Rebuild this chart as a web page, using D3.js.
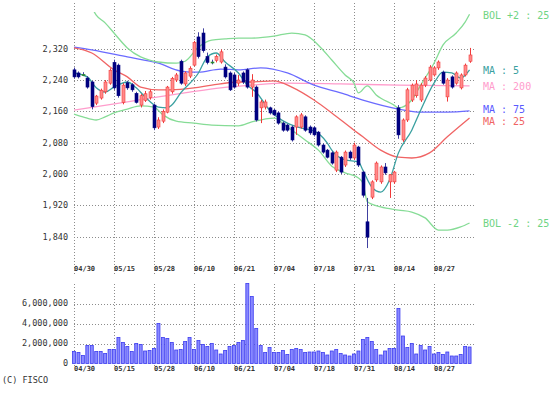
<!DOCTYPE html>
<html>
<head>
<meta charset="utf-8">
<script src="https://cdn.jsdelivr.net/npm/d3@7"></script>
<style>
body { margin: 0; background: #fff; }
text { font-family: "DejaVu Sans Mono", monospace; }
</style>
</head>
<body>
<div id="chart"></div>
<script>
// daily candles, one per trading day (index 0 = 04/30)
const opens  = [2266,2258,2254,2245,2235,2181,2194,2210,2232,2285,2278,2183,2233,2228,2206,2176,2188,2195,2176,2120,
                2135,2158,2210,2240,2288,2230,2250,2278,2350,2360,2300,2286,2290,2286,2273,2258,2253,2232,2258,2266,
                2222,2222,2169,2171,2169,2163,2156,2130,2125,2120,2120,2120,2146,2120,2118,2107,2074,2061,2054,2010,
                2043,2023,2056,2041,2069,2005,1878,1941,1985,1980,2018,1980,1980,2169,2087,2138,2189,2200,2189,2227,
                2240,2253,2271,2260,2197,2248,2232,2220,2253,2288];
const highs  = [2272,2262,2260,2250,2238,2202,2218,2240,2270,2292,2282,2232,2238,2232,2210,2204,2212,2215,2180,2145,
                2165,2225,2248,2258,2292,2262,2275,2340,2362,2372,2310,2292,2305,2318,2280,2262,2258,2253,2262,2270,
                2255,2226,2189,2190,2172,2166,2160,2134,2128,2124,2150,2156,2150,2124,2122,2110,2078,2064,2058,2060,
                2046,2060,2060,2080,2072,2008,1939,1984,2032,2022,2028,2000,2008,2176,2142,2220,2231,2240,2232,2250,
                2278,2275,2290,2264,2245,2252,2262,2257,2282,2322];
const lows   = [2244,2244,2250,2218,2165,2176,2190,2205,2228,2215,2195,2178,2215,2210,2180,2170,2184,2190,2112,2115,
                2130,2155,2205,2235,2228,2225,2245,2275,2295,2310,2280,2280,2285,2282,2244,2212,2218,2225,2230,2218,
                2197,2134,2130,2165,2152,2148,2126,2108,2108,2083,2100,2116,2108,2100,2096,2070,2052,2040,2024,2005,
                2000,2018,2036,2036,2018,1940,1811,1936,1980,1975,1998,1939,1975,2090,2082,2133,2184,2195,2184,2222,
                2236,2249,2266,2228,2185,2218,2228,2216,2249,2284];
const closes = [2248,2248,2254,2222,2172,2199,2214,2235,2265,2220,2200,2227,2220,2215,2183,2200,2205,2210,2118,2138,
                2160,2222,2244,2253,2232,2258,2270,2336,2300,2315,2285,2286,2300,2312,2248,2215,2222,2240,2235,2222,
                2240,2138,2184,2184,2156,2151,2130,2112,2112,2087,2146,2151,2112,2105,2100,2074,2056,2043,2028,2056,
                2005,2056,2041,2074,2023,1946,1839,1980,2028,2018,2003,1998,2005,2100,2138,2215,2227,2230,2227,2245,
                2273,2271,2286,2232,2240,2222,2258,2253,2278,2304];
const volumes = [1.2,1.1,0.8,1.8,1.8,1.2,1.2,1.0,1.4,1.4,2.6,2.1,1.7,1.2,2.0,1.9,1.25,1.3,1.5,4.0,
                 2.6,2.5,2.1,1.35,1.4,2.2,2.6,1.4,2.3,1.9,1.7,2.0,1.35,0.95,1.3,1.7,1.8,2.1,2.3,8.0,
                 6.7,3.5,1.8,1.1,1.6,1.1,1.1,1.3,0.9,1.4,1.5,1.4,1.1,1.15,1.15,1.25,1.1,0.85,1.25,1.4,
                 1.0,0.85,0.75,0.95,1.25,2.4,2.6,2.2,1.4,0.85,1.25,1.5,1.5,5.5,2.75,1.6,2.0,0.95,1.8,1.35,
                 1.7,0.95,1.1,0.9,1.15,0.75,0.75,0.9,1.7,1.65].map(v => v * 1e6);

// indicator lines: [day index, value]
const ma5 = [[0,2258],[3,2248],[5,2220],[7,2209],[9,2222],[12,2235],[14,2220],[16,2197],[19,2171],[21,2169],[22,2176],
             [24,2207],[28,2258],[30,2299],[32,2309],[34,2286],[37,2258],[39,2227],[41,2209],[44,2163],[48,2130],
             [51,2118],[54,2110],[57,2079],[58,2061],[61,2036],[64,2031],[65,2010],[67,1967],[69,1954],[71,1985],
             [73,2054],[76,2112],[78,2163],[81,2232],[83,2260],[85,2258],[87,2245],[89,2266]];
const ma25 = [[0,2322],[4,2309],[9,2266],[12,2248],[15,2222],[19,2215],[22,2215],[27,2220],[31,2227],[37,2235],
              [40,2235],[45,2238],[49,2222],[54,2189],[58,2156],[63,2112],[65,2095],[69,2061],[73,2043],[76,2041],
              [80,2054],[84,2095],[89,2143]];
const ma75 = [[0,2324],[4,2317],[12,2299],[19,2283],[24,2263],[28,2260],[33,2268],[37,2266],[42,2271],[48,2258],
              [54,2227],[60,2207],[65,2189],[73,2166],[78,2158],[84,2158],[89,2161]];
const ma200 = [[0,2163],[12,2184],[19,2197],[26,2209],[33,2220],[40,2227],[48,2232],[60,2230],[73,2227],[89,2225]];
const bolUp = [[4,2425],[5,2406],[7,2386],[9,2360],[12,2322],[15,2299],[17,2291],[19,2286],[23,2283],[25,2288],
               [28,2324],[31,2342],[34,2345],[37,2347],[40,2347],[45,2352],[49,2360],[52,2355],[55,2329],[58,2291],
               [61,2253],[63,2232],[64,2207],[66,2225],[68,2202],[72,2176],[73,2169],[76,2189],[78,2227],[81,2283],
               [83,2329],[86,2360],[88,2388],[89,2408]];
const bolDn = [[0,2153],[2,2146],[5,2138],[7,2146],[9,2156],[12,2166],[15,2174],[18,2171],[20,2151],[23,2135],
               [27,2130],[31,2125],[37,2123],[40,2133],[45,2143],[48,2120],[52,2087],[55,2061],[58,2020],[61,2003],
               [64,1990],[65,1977],[66,1929],[69,1916],[73,1908],[76,1903],[79,1888],[82,1857],[84,1857],[87,1865],
               [89,1875]];

const tickIdx = [0,9,18,27,36,45,54,63,72,81];
const tickLabels = ["04/30","05/15","05/28","06/10","06/21","07/04","07/18","07/31","08/14","08/27"];
const priceTicks = [1840,1920,2000,2080,2160,2240,2320];
const volTicks = [0,2e6,4e6,6e6];

const width = 551, height = 393;
const svg = d3.select('#chart').append('svg')
    .attr('width', width)
    .attr('height', height);

const x = d3.scaleLinear().domain([0, 90]).range([74, 474]);
const y = d3.scaleLinear().domain([1840, 2320]).range([236.7, 48.7]);
const yv = d3.scaleLinear().domain([0, 6e6]).range([363.5, 303.5]);
const fmt = d3.format(',');

const gridColor = '#8c8c8c';
const dash = '1,2';

// price grid
const grid = svg.append('g').attr('stroke', gridColor).attr('stroke-dasharray', dash).attr('stroke-width', 1);
grid.selectAll('.hp').data(priceTicks).join('line')
    .attr('x1', 74).attr('x2', 474)
    .attr('y1', d => Math.round(y(d)) + 0.5).attr('y2', d => Math.round(y(d)) + 0.5);
grid.selectAll('.vp').data(tickIdx).join('line')
    .attr('x1', d => Math.round(x(d)) + 0.5).attr('x2', d => Math.round(x(d)) + 0.5)
    .attr('y1', 3).attr('y2', 276);
// volume grid
grid.selectAll('.hv').data(volTicks.slice(1)).join('line')
    .attr('x1', 74).attr('x2', 474)
    .attr('y1', d => Math.round(yv(d)) + 0.5).attr('y2', d => Math.round(yv(d)) + 0.5);
grid.selectAll('.vv').data(tickIdx).join('line')
    .attr('x1', d => Math.round(x(d)) + 0.5).attr('x2', d => Math.round(x(d)) + 0.5)
    .attr('y1', 284).attr('y2', 366);

// axis labels
svg.append('g').selectAll('text').data(priceTicks).join('text')
    .attr('x', 68).attr('y', d => y(d)).attr('dy', '0.35em')
    .attr('text-anchor', 'end').attr('font-size', 8.5).attr('fill', '#333')
    .text(d => fmt(d));
svg.append('g').selectAll('text').data(volTicks).join('text')
    .attr('x', 68).attr('y', d => yv(d)).attr('dy', '0.35em')
    .attr('text-anchor', 'end').attr('font-size', 8.5).attr('fill', '#333')
    .text(d => fmt(d));
svg.append('g').selectAll('text').data(tickIdx).join('text')
    .attr('x', d => x(d)).attr('y', 269).attr('dy', '0.35em')
    .attr('font-size', 7).attr('font-weight', 'bold').attr('fill', '#333')
    .text((d, i) => tickLabels[i]);
svg.append('g').selectAll('text').data(tickIdx).join('text')
    .attr('x', d => x(d)).attr('y', 369).attr('dy', '0.35em')
    .attr('font-size', 7).attr('font-weight', 'bold').attr('fill', '#333')
    .text((d, i) => tickLabels[i]);
svg.append('text').attr('x', 2).attr('y', 380).attr('dy', '0.35em')
    .attr('font-size', 8.5).attr('fill', '#333').text('(C) FISCO');

// volume bars
svg.append('g').selectAll('rect').data(volumes).join('rect')
    .attr('x', (d, i) => x(i) - 1.5).attr('width', 3)
    .attr('y', d => yv(d)).attr('height', d => yv(0) - yv(d))
    .attr('fill', '#8888ff').attr('stroke', '#3c3cf0').attr('stroke-width', 0.8);

// indicator lines, clipped to the price panel
svg.append('clipPath').attr('id', 'pclip').append('rect')
    .attr('x', 70).attr('y', 12).attr('width', 410).attr('height', 250);
const lines = svg.append('g').attr('clip-path', 'url(#pclip)').attr('fill', 'none').attr('stroke-width', 1.3);
const line = d3.line().x(d => x(d[0])).y(d => y(d[1])).curve(d3.curveMonotoneX);
const series = [
    {data: ma200, color: '#ff9ccc'},
    {data: ma75, color: '#6b6bff'},
    {data: ma25, color: '#f06464'},
    {data: bolUp, color: '#86dc96'},
    {data: bolDn, color: '#86dc96'}
];
series.forEach(s => lines.append('path').attr('d', line(s.data)).attr('stroke', s.color));

// candles
const candles = svg.append('g');
closes.forEach((c, i) => {
    const o = opens[i];
    let col = c > o ? '#f03a3a' : '#000080';
    if (c === o) col = '#2a8a2a';
    candles.append('line')
        .attr('x1', Math.round(x(i)) + 0.5).attr('x2', Math.round(x(i)) + 0.5)
        .attr('y1', y(highs[i])).attr('y2', y(lows[i]))
        .attr('stroke', c > o ? '#f03a3a' : '#4040a0');
    candles.append('rect')
        .attr('x', Math.round(x(i)) - 1).attr('width', 3)
        .attr('y', y(Math.max(o, c))).attr('height', Math.max(1, Math.abs(y(o) - y(c))))
        .attr('fill', c > o ? '#ff8a8a' : col).attr('stroke', col).attr('stroke-width', 0.6);
});

// MA5 drawn over candles
lines.append('path').attr('d', line(ma5)).attr('stroke', '#3aa0a0');

// legend labels at line ends (MA 75 / MA 25 nudged apart as in the original)
const legend = [
    {t: 'BOL +2 : 25', v: null, yy: 15, color: '#6fd484'},
    {t: 'MA : 5', v: ma5[ma5.length - 1][1], off: 1, color: '#3aa0a0'},
    {t: 'MA : 200', v: ma200[ma200.length - 1][1], off: 1, color: '#ff9ccc'},
    {t: 'MA : 75', v: ma75[ma75.length - 1][1], off: -1.5, color: '#5a5aff'},
    {t: 'MA : 25', v: ma25[ma25.length - 1][1], off: 3, color: '#f06464'},
    {t: 'BOL -2 : 25', v: bolDn[bolDn.length - 1][1], off: 1, color: '#6fd484'}
];
svg.append('g').selectAll('text').data(legend).join('text')
    .attr('x', 483).attr('y', d => d.v === null ? d.yy : y(d.v) + d.off).attr('dy', '0.35em')
    .attr('font-size', 10).attr('fill', d => d.color)
    .text(d => d.t);
</script>
</body>
</html>
